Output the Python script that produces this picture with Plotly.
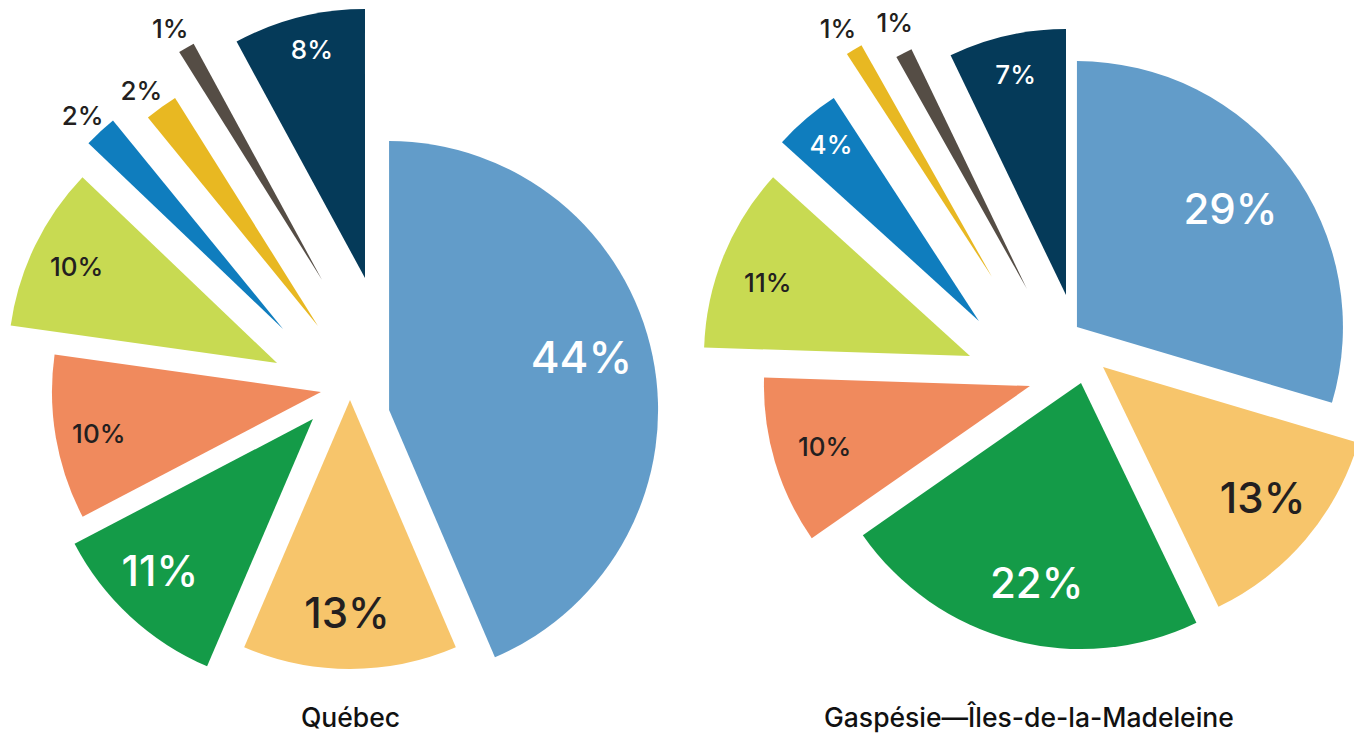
import math
import plotly.graph_objects as go

# ---------------- data ----------------
categories = ["Catégorie 1", "Catégorie 2", "Catégorie 3", "Catégorie 4", "Catégorie 5",
              "Catégorie 6", "Catégorie 7", "Catégorie 8", "Catégorie 9"]
quebec_values = [44, 13, 11, 10, 10, 2, 2, 1, 8]
gaspesie_values = [29, 13, 22, 10, 11, 4, 1, 1, 7]
titles = ["Québec", "Gaspésie—Îles-de-la-Madeleine"]

# ---------------- styles ----------------
colors = ["#629CC9", "#F7C56B", "#149B48", "#F08A5D", "#C8DA52",
          "#0F7DBE", "#E8B822", "#554D45", "#053A59"]
DARK = "#231F20"
WHITE = "#FFFFFF"

# explode of each slice: distance (fraction of radius) and direction (deg, clockwise from 12 o'clock)
quebec_pull = [0.150, 0.0, 0.155, 0.112, 0.304, 0.363, 0.300, 0.458, 0.457]
quebec_pull_dir = [104.4, 180.0, 242.8, 285.4, 296.9, 316.7, 336.6, 346.9, 7.0]
gaspesie_pull = [0.156, 0.162, 0.104, 0.138, 0.340, 0.347, 0.418, 0.312, 0.264]
gaspesie_pull_dir = [24.1, 92.7, 130.6, 235.0, 275.7, 298.5, 322.3, 336.5, 4.9]

# label distance from slice tip (fraction of radius); None = outside label
quebec_label_r = [0.73, 0.80, 0.805, 0.838, 0.826, None, None, None, 0.877]
gaspesie_label_r = [0.72, 0.78, 0.776, 0.805, 0.82, 0.865, None, None, 0.85]

# small label nudges in px (dx, dy)
quebec_label_nudge = [(0, -14), (-3, -3), (-6, -8), (0, 3), (-3, 0),
                      (11, -8), (9, -7), (10, -8), (5, 0)]
gaspesie_label_nudge = [(0, -4), (4, -3), (8, 0), (0, 0), (0, 8),
                        (5, 3), (10, -10), (17, -18), (0, 0)]

quebec_textsize = [44, 42, 42, 26, 26, 26, 26, 26, 26]
gaspesie_textsize = [42, 42, 42, 26, 26, 26, 26, 26, 26]

quebec_textcolor = [WHITE, DARK, WHITE, DARK, DARK, DARK, DARK, DARK, WHITE]
gaspesie_textcolor = [WHITE, DARK, WHITE, DARK, DARK, WHITE, DARK, DARK, WHITE]

W, H = 1362, 733
BODY = 8  # default page margin around the plot div
FONT = "Inter, 'Open Sans', sans-serif"

fig = go.Figure()


def to_domain(cx, cy, r):
    x0 = (cx - r - BODY) / W
    x1 = (cx + r - BODY) / W
    y0 = 1 - (cy + r - BODY) / H
    y1 = 1 - (cy - r - BODY) / H
    return dict(x=[max(0.0, x0), min(1.0, x1)], y=[max(0.0, y0), min(1.0, y1)])


def add_exploded_pie(values, center, r, pulls, pull_dir, label_r, nudges,
                     textsize, textcolor):
    total = float(sum(values))
    n = len(values)
    cum = 0.0
    for i, v in enumerate(values):
        half = v / total * math.pi           # half angle of the slice
        mid = (cum + v / 2.0) / total * 2 * math.pi  # bisector angle
        cum += v
        a = math.radians(pull_dir[i])
        cx = center[0] + pulls[i] * r * math.sin(a)
        cy = center[1] - pulls[i] * r * math.cos(a)
        transparent = ["rgba(0,0,0,0)"] * n
        slice_colors = [colors[j] if j == i else "rgba(0,0,0,0)" for j in range(n)]
        # the slice itself
        fig.add_trace(go.Pie(
            labels=categories, values=values, sort=False,
            direction="clockwise", rotation=0,
            marker=dict(colors=slice_colors, line=dict(width=0)),
            textinfo="none", domain=to_domain(cx, cy, r), showlegend=False,
            hoverinfo="label+value", automargin=False,
        ))
        # its label
        ndx, ndy = nudges[i]
        if label_r[i] is None:
            hole = 0.0
            pos = "outside"
            rl = 0.5 * r
            lx = cx + (r - rl) * math.sin(mid) + ndx
            ly = cy - (r - rl) * math.cos(mid) + ndy
        else:
            natural = 1.0 / (1.0 + 1.0 / math.sin(half))
            want = 1.0 - label_r[i]
            hole = max(0.0, 1.0 - 2.0 * want) if want < natural else 0.0
            pos = "inside"
            rl = r
            lx, ly = cx + ndx, cy + ndy
        fig.add_trace(go.Pie(
            labels=categories, values=values, sort=False,
            direction="clockwise", rotation=0, hole=hole,
            marker=dict(colors=transparent, line=dict(width=0)),
            text=[f"{values[j]}%" if j == i else "" for j in range(n)],
            textinfo="text",
            textposition=[pos if j == i else "none" for j in range(n)],
            insidetextorientation="horizontal",
            textfont=dict(family=FONT, size=textsize[i], color=textcolor[i], weight=500),
            domain=to_domain(lx, ly, rl), showlegend=False, hoverinfo="skip",
            automargin=False,
        ))


add_exploded_pie(quebec_values, (350, 400), 269, quebec_pull, quebec_pull_dir,
                 quebec_label_r, quebec_label_nudge, quebec_textsize, quebec_textcolor)
add_exploded_pie(gaspesie_values, (1060, 365), 266, gaspesie_pull, gaspesie_pull_dir,
                 gaspesie_label_r, gaspesie_label_nudge, gaspesie_textsize, gaspesie_textcolor)

fig.update_layout(
    width=W, height=H,
    margin=dict(l=0, r=0, t=0, b=0, autoexpand=False),
    paper_bgcolor="white",
    plot_bgcolor="white",
    font=dict(family=FONT, color=DARK),
    annotations=[
        dict(text=titles[0], x=(350 - BODY) / W, y=1 - (717 - BODY) / H,
             xref="paper", yref="paper", showarrow=False,
             xanchor="center", yanchor="middle",
             font=dict(family=FONT, size=26.5, color="#111111", weight=500)),
        dict(text=titles[1], x=(1029 - BODY) / W, y=1 - (717 - BODY) / H,
             xref="paper", yref="paper", showarrow=False,
             xanchor="center", yanchor="middle",
             font=dict(family=FONT, size=26.5, color="#111111", weight=500)),
    ],
)

fig.write_html("out.html")
